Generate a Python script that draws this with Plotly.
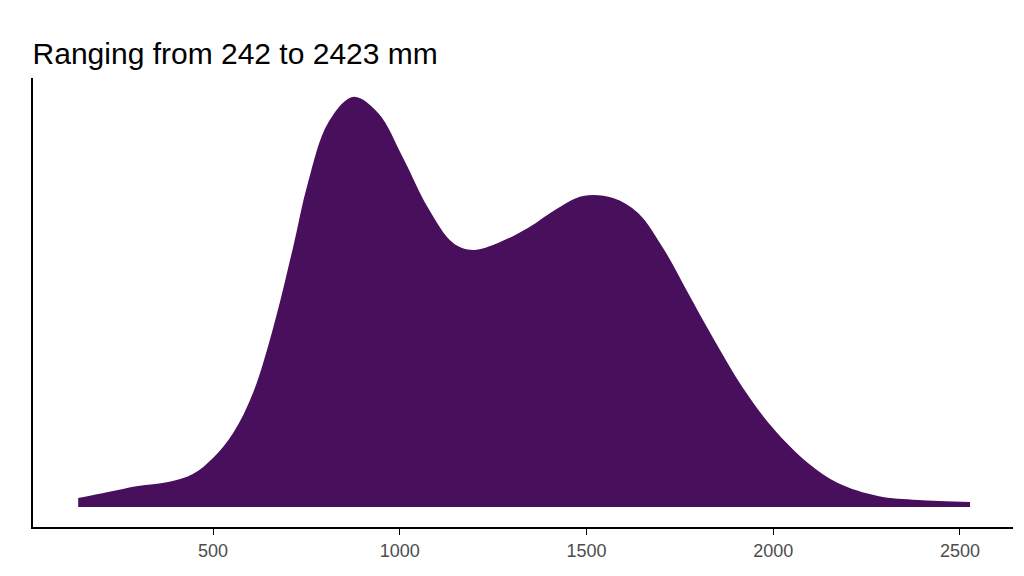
import plotly.graph_objects as go

rainfall_mm = [139, 219, 299, 380, 446, 500, 554, 607, 661, 714, 754, 808, 875, 942, 1009,
               1076, 1143, 1196, 1263, 1343, 1424, 1491, 1571, 1638, 1705, 1772, 1839,
               1919, 1999, 2093, 2173, 2280, 2388, 2527]
density = [0.0000203, 0.0000338, 0.0000473, 0.0000563, 0.0000743, 0.0001103, 0.0001665,
           0.0002565, 0.0004028, 0.0005828, 0.000729, 0.000864, 0.0009225, 0.0008865,
           0.0007853, 0.0006728, 0.000594, 0.0005783, 0.000594, 0.0006278, 0.0006728,
           0.0006998, 0.0006953, 0.0006615, 0.0005828, 0.0004815, 0.0003803, 0.0002678,
           0.0001778, 0.000099, 0.000054, 0.0000248, 0.0000158, 0.0000113]
tick_vals = [500, 1000, 1500, 2000, 2500]

fig = go.Figure(go.Scatter(x=rainfall_mm, y=density, mode="lines", line=dict(width=0, shape="spline"),
                           fill="tozeroy", fillcolor="#470f5c", hoverinfo="skip"))
fig.update_layout(
    width=1024, height=576, plot_bgcolor="white", paper_bgcolor="white",
    margin=dict(l=25, r=19, t=70, b=57), showlegend=False,
    title=dict(text="Ranging from 242 to 2423 mm", x=0.024, xanchor="left", y=0.94,
               font=dict(family="Liberation Sans, Arial", size=30, color="black")),
    xaxis=dict(range=[18, 2642], tickvals=tick_vals, showgrid=False, zeroline=False,
               showline=True, linecolor="black", linewidth=2, ticks="outside", ticklen=6,
               tickcolor="black", tickfont=dict(family="Liberation Sans, Arial", size=18, color="#4d4d4d")),
    yaxis=dict(range=[-0.000045, 0.000965], showticklabels=False, showgrid=False, zeroline=False,
               showline=True, linecolor="black", linewidth=2, ticks=""),
)
fig.write_html("out.html")
